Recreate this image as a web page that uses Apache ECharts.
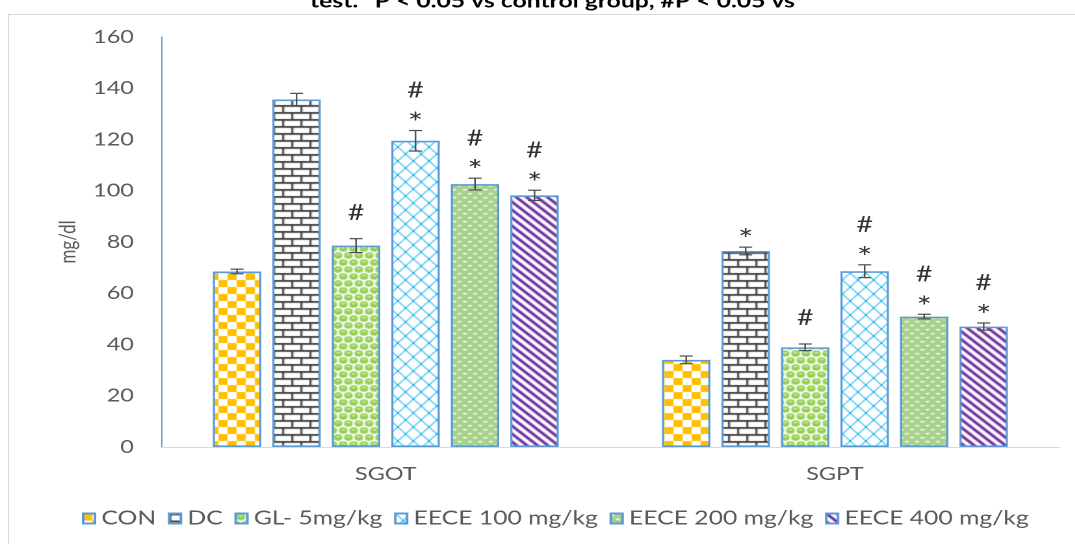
<!DOCTYPE html>
<html>
<head>
<meta charset="utf-8">
<script src="https://cdn.jsdelivr.net/npm/echarts@6/dist/echarts.min.js"></script>
<style>
  html, body { margin: 0; padding: 0; background: #ffffff; }
  #wrap { width: 1075px; height: 544px; overflow: hidden; position: relative; background: #fff; }
  #chart { height: 544px; transform-origin: 0 0; }
</style>
</head>
<body>
<div id="wrap"><div id="chart"></div></div>
<script>
// Serum enzyme levels (mg/dl), mean and error per treatment group
const categories = ['SGOT', 'SGPT'];
const groupNames = ['CON', 'DC', 'GL- 5mg/kg', 'EECE 100 mg/kg', 'EECE 200 mg/kg', 'EECE 400 mg/kg'];

const conMean  = [68.5, 34.0];
const dcMean   = [135.6, 76.5];
const glMean   = [78.6, 38.9];
const e100Mean = [119.5, 68.6];
const e200Mean = [102.6, 50.9];
const e400Mean = [98.2, 47.0];

const conErr  = [0.9, 1.5];
const dcErr   = [2.4, 1.5];
const glErr   = [2.7, 1.3];
const e100Err = [4.0, 2.5];
const e200Err = [2.3, 0.9];
const e400Err = [2.0, 1.4];

// significance marks: * vs control, # vs disease control
const starMarks = [[0, 0], [0, 1], [0, 0], [1, 1], [1, 1], [1, 1]];
const hashMarks = [[0, 0], [0, 0], [1, 1], [1, 1], [1, 1], [1, 1]];

const yTicks = [0, 20, 40, 60, 80, 100, 120, 140, 160];
const titleText = 'test. *P < 0.05 vs control group, #P < 0.05 vs';

const means = [conMean, dcMean, glMean, e100Mean, e200Mean, e400Mean];
const errs = [conErr, dcErr, glErr, e100Err, e200Err, e400Err];

// horizontal stretch of the whole drawing
const S = 1.3;
const W = Math.round(1075 / S);
const chartEl = document.getElementById('chart');
chartEl.style.width = W + 'px';
chartEl.style.transform = 'scaleX(' + S + ')';

const FONT = 'Lato, "Open Sans", sans-serif';
const TEXT_COLOR = '#595959';
const CAT_GAP = 0.23;
const BAR_GAP = 0.23;

// ---- fill patterns ----
function tile(w, h, draw) {
  const c = document.createElement('canvas');
  c.width = w; c.height = h;
  const ctx = c.getContext('2d');
  draw(ctx, w, h);
  return { image: c, repeat: 'repeat' };
}
const patterns = [
  // checkerboard
  tile(14, 14, (ctx) => {
    ctx.fillStyle = '#ffffff'; ctx.fillRect(0, 0, 14, 14);
    ctx.fillStyle = '#FFC000';
    ctx.fillRect(0, 0, 7, 7); ctx.fillRect(7, 7, 7, 7);
  }),
  // horizontal brick
  tile(14, 14, (ctx) => {
    ctx.fillStyle = '#ffffff'; ctx.fillRect(0, 0, 14, 14);
    ctx.fillStyle = '#3a3a3a';
    ctx.fillRect(0, 0, 14, 1.8); ctx.fillRect(0, 7, 14, 1.8);
    ctx.fillRect(0, 0, 1.5, 7); ctx.fillRect(7, 7, 1.5, 7);
  }),
  // spheres
  tile(8, 14, (ctx) => {
    ctx.fillStyle = '#ffffff'; ctx.fillRect(0, 0, 8, 14);
    ctx.fillStyle = '#92D050';
    const dot = (x, y) => { ctx.beginPath(); ctx.arc(x, y, 3.3, 0, Math.PI * 2); ctx.fill(); };
    dot(4, 3.5); dot(0, 10.5); dot(8, 10.5);
    ctx.fillStyle = '#e8f6d8';
    ctx.fillRect(2.6, 2.2, 2.8, 1); ctx.fillRect(-1.4, 9.2, 2.8, 1); ctx.fillRect(6.6, 9.2, 2.8, 1);
  }),
  // diamond crosshatch
  tile(12, 14, (ctx) => {
    ctx.fillStyle = '#ffffff'; ctx.fillRect(0, 0, 12, 14);
    ctx.strokeStyle = '#00B0F0'; ctx.lineWidth = 1;
    ctx.beginPath();
    ctx.moveTo(0, 0); ctx.lineTo(12, 14);
    ctx.moveTo(12, 0); ctx.lineTo(0, 14);
    ctx.stroke();
  }),
  // green with white dashes
  tile(8, 8, (ctx) => {
    ctx.fillStyle = '#A9D18E'; ctx.fillRect(0, 0, 8, 8);
    ctx.fillStyle = '#ffffff';
    ctx.fillRect(0, 1, 3, 1.3); ctx.fillRect(4, 5, 3, 1.3);
  }),
  // diagonal stripes
  tile(8, 8, (ctx) => {
    ctx.fillStyle = '#ffffff'; ctx.fillRect(0, 0, 8, 8);
    ctx.strokeStyle = '#7030A0'; ctx.lineWidth = 2.6;
    ctx.beginPath();
    ctx.moveTo(-8, -8); ctx.lineTo(16, 16);
    ctx.moveTo(-8, 0); ctx.lineTo(8, 16);
    ctx.moveTo(0, -8); ctx.lineTo(16, 8);
    ctx.stroke();
  })
];

// ---- series ----
const barSeries = groupNames.map((name, gi) => ({
  name: name,
  type: 'bar',
  data: means[gi],
  barGap: (BAR_GAP * 100) + '%',
  barCategoryGap: (CAT_GAP * 100) + '%',
  itemStyle: { color: patterns[gi], borderColor: '#5B9BD5', borderWidth: 1.6 },
  emphasis: { disabled: true }
}));

const errData = [];
groupNames.forEach((_, gi) => {
  categories.forEach((_, ci) => {
    errData.push([ci, gi, means[gi][ci], errs[gi][ci], starMarks[gi][ci], hashMarks[gi][ci]]);
  });
});

function renderErr(params, api) {
  const cat = api.value(0), gi = api.value(1), v = api.value(2), e = api.value(3);
  const star = api.value(4), hash = api.value(5);
  const n = groupNames.length;
  const bw = api.size([1, 0])[0];
  const total = bw * (1 - CAT_GAP);
  const barW = total / (n + (n - 1) * BAR_GAP);
  const x = api.coord([cat, 0])[0] - total / 2 + gi * barW * (1 + BAR_GAP) + barW / 2;
  const yTop = api.coord([cat, v + e])[1];
  const yBot = api.coord([cat, v - e])[1];
  const cap = 5;
  const ls = { stroke: '#4d4d4d', lineWidth: 1.2 };
  const children = [
    { type: 'line', shape: { x1: x, y1: yTop, x2: x, y2: yBot }, style: ls },
    { type: 'line', shape: { x1: x - cap, y1: yTop, x2: x + cap, y2: yTop }, style: ls },
    { type: 'line', shape: { x1: x - cap, y1: yBot, x2: x + cap, y2: yBot }, style: ls }
  ];
  const ts = { fill: '#333333', fontFamily: FONT, align: 'center', verticalAlign: 'middle' };
  if (star) children.push({ type: 'text', x: x, y: yTop - 15 + 8,
    style: Object.assign({ text: '*', fontSize: 28 }, ts) });
  if (hash) children.push({ type: 'text', x: x, y: yTop - (star ? 40 : 26),
    style: Object.assign({ text: '#', fontSize: 22 }, ts) });
  return { type: 'group', children: children };
}

const chart = echarts.init(chartEl, null, { renderer: 'canvas', devicePixelRatio: 2 });
chart.setOption({
  animation: false,
  backgroundColor: '#ffffff',
  textStyle: { fontFamily: FONT },
  graphic: [
    { type: 'rect', left: 4, top: 12, shape: { width: W + 50, height: 600 },
      style: { fill: 'none', stroke: '#D9D9D9', lineWidth: 1 }, silent: true },
    { type: 'text', x: 425, y: 11,
      style: { text: titleText, fontFamily: FONT, fontWeight: 'bold', fontSize: 19,
               fill: '#000000', align: 'center', verticalAlign: 'bottom' } }
  ],
  grid: { left: 124, right: W - 815, top: 37, bottom: 97 },
  legend: {
    data: groupNames,
    bottom: 11,
    left: 58,
    icon: 'rect',
    itemWidth: 9,
    itemHeight: 10,
    itemGap: 9,
    selectedMode: false,
    textStyle: { color: TEXT_COLOR, fontSize: 19, fontFamily: FONT }
  },
  xAxis: {
    type: 'category',
    data: categories,
    axisLine: { lineStyle: { color: '#D9D9D9', width: 1 } },
    axisTick: { show: false },
    axisLabel: { color: TEXT_COLOR, fontSize: 18, margin: 18, fontFamily: FONT }
  },
  yAxis: {
    type: 'value',
    min: yTicks[0],
    max: yTicks[yTicks.length - 1],
    interval: yTicks[1] - yTicks[0],
    name: 'mg/dl',
    nameLocation: 'middle',
    nameGap: 57,
    nameTextStyle: { color: TEXT_COLOR, fontSize: 17, fontFamily: FONT },
    axisLine: { show: true, lineStyle: { color: '#5B9BD5', width: 1 } },
    axisTick: { show: false },
    splitLine: { show: false },
    axisLabel: { color: TEXT_COLOR, fontSize: 18, margin: 21, fontFamily: FONT }
  },
  series: barSeries.concat([{
    type: 'custom',
    name: 'err',
    renderItem: renderErr,
    data: errData,
    encode: { x: 0, y: 2 },
    z: 5,
    silent: true
  }])
});
</script>
</body>
</html>
